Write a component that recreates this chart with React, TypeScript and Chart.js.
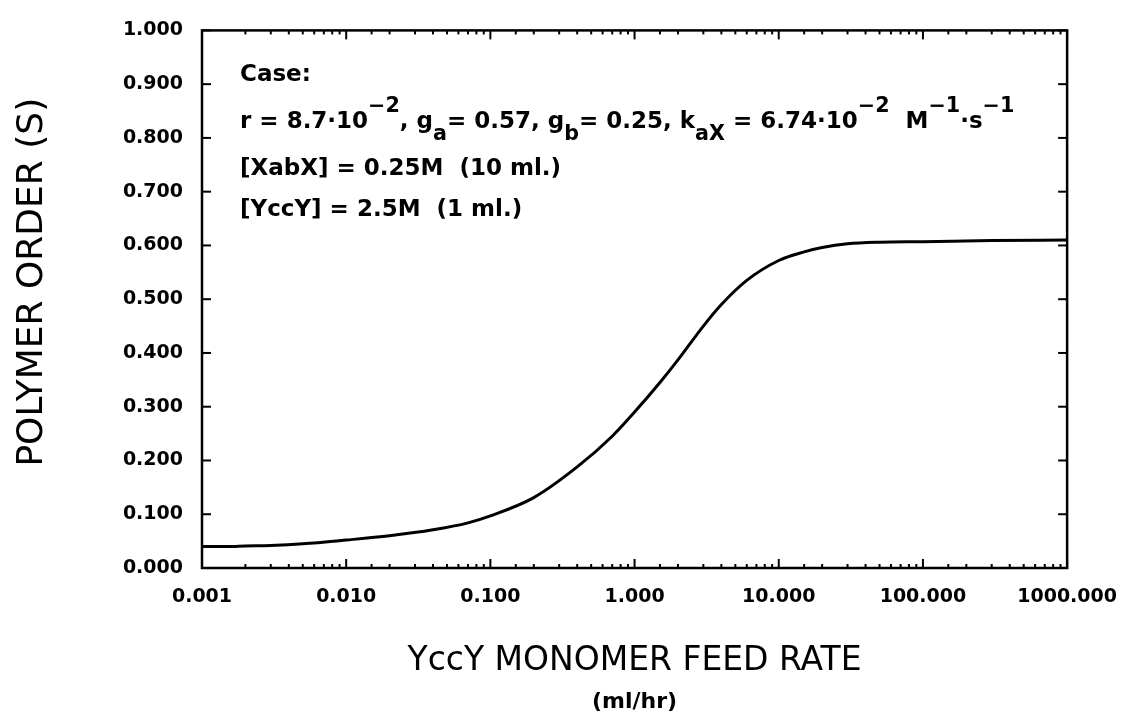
import React, { useEffect, useRef } from "react";
import { Chart, registerables } from "chart.js";

Chart.register(...registerables);

// ---- data ----
const feedRates = [0.001, 0.0015, 0.002, 0.003, 0.005, 0.01, 0.02, 0.04, 0.07, 0.1, 0.2, 0.4, 0.7, 1, 1.5, 2, 3, 4, 6, 10, 15, 20, 30, 50, 100, 300, 1000];
const polymerOrder = [0.040, 0.040, 0.041, 0.042, 0.045, 0.052, 0.060, 0.071, 0.084, 0.097, 0.131, 0.188, 0.245, 0.290, 0.345, 0.387, 0.450, 0.490, 0.535, 0.572, 0.588, 0.596, 0.603, 0.606, 0.607, 0.609, 0.610];

const xMin = 0.001;
const xMax = 1000;
const yMin = 0;
const yMax = 1;
const yStep = 0.1;

const xTitle = "YccY MONOMER FEED RATE";
const xUnit = "(ml/hr)";
const yTitle = "POLYMER ORDER (S)";

type Seg = { t: string; s?: "sup" | "sub" };
const annotationLines: Seg[][] = [
  [{ t: "Case:" }],
  [
    { t: "r = 8.7·10" }, { t: "−2", s: "sup" }, { t: ", g" }, { t: "a", s: "sub" },
    { t: "= 0.57, g" }, { t: "b", s: "sub" }, { t: "= 0.25, k" }, { t: "aX", s: "sub" },
    { t: " = 6.74·10" }, { t: "−2", s: "sup" }, { t: "  M" }, { t: "−1", s: "sup" },
    { t: "·s" }, { t: "−1", s: "sup" },
  ],
  [{ t: "[XabX] = 0.25M  (10 ml.)" }],
  [{ t: "[YccY] = 2.5M  (1 ml.)" }],
];

const FONT = '"DejaVu Sans"';

const isDecade = (v: number) => Math.abs(Math.log10(v) - Math.round(Math.log10(v))) < 1e-6;

const framePlugin = {
  id: "frameTicks",
  afterDatasetsDraw(chart: any) {
    const { ctx, chartArea: a, scales } = chart;
    const x = scales.x;
    const y = scales.y;
    ctx.save();
    ctx.strokeStyle = "#000";
    ctx.lineWidth = 2.5;
    ctx.strokeRect(a.left, a.top, a.right - a.left, a.bottom - a.top);
    ctx.lineWidth = 2;
    const line = (x1: number, y1: number, x2: number, y2: number) => {
      ctx.beginPath();
      ctx.moveTo(x1, y1);
      ctx.lineTo(x2, y2);
      ctx.stroke();
    };
    y.ticks.forEach((t: any) => {
      const py = y.getPixelForValue(t.value);
      line(a.left, py, a.left + 9, py);
      line(a.right, py, a.right - 9, py);
    });
    x.ticks.forEach((t: any) => {
      const px = x.getPixelForValue(t.value);
      const len = isDecade(t.value) ? 9 : 4;
      line(px, a.bottom, px, a.bottom - len);
      line(px, a.top, px, a.top + len);
    });
    ctx.restore();
  },
};

const textPlugin = {
  id: "caseText",
  afterDraw(chart: any) {
    const { ctx, chartArea: a } = chart;
    const size = 23;
    const x0 = a.left + 38;
    const lineYs = [a.top + 45, a.top + 92, a.top + 139, a.top + 180];
    ctx.save();
    ctx.fillStyle = "#000";
    ctx.textBaseline = "middle";
    ctx.textAlign = "left";
    annotationLines.forEach((segs, i) => {
      let cx = x0;
      const y0 = lineYs[i];
      segs.forEach((sg) => {
        let dy = 0;
        let fs = size;
        if (sg.s === "sup") { dy = -16; fs = size * 0.9; }
        if (sg.s === "sub") { dy = 12; fs = size * 0.9; }
        ctx.font = `bold ${fs}px ${FONT}`;
        ctx.fillText(sg.t, cx, y0 + dy);
        cx += ctx.measureText(sg.t).width;
      });
    });
    // y-axis title
    ctx.save();
    ctx.translate(42, (a.top + a.bottom) / 2 - 17);
    ctx.rotate(-Math.PI / 2);
    ctx.font = `36px ${FONT}`;
    ctx.textAlign = "center";
    ctx.textBaseline = "alphabetic";
    ctx.fillText(yTitle, 0, 0);
    ctx.restore();
    ctx.restore();
  },
};

export default function App() {
  const ref = useRef<HTMLCanvasElement | null>(null);

  useEffect(() => {
    if (!ref.current) return;
    const points = feedRates.map((r, i) => ({ x: r, y: polymerOrder[i] }));
    const chart = new Chart(ref.current, {
      type: "line",
      data: {
        datasets: [
          {
            data: points,
            borderColor: "#000",
            borderWidth: 3,
            pointRadius: 0,
            cubicInterpolationMode: "monotone",
            fill: false,
          },
        ],
      },
      options: {
        responsive: false,
        animation: false,
        layout: { padding: { top: 23, right: 59, left: 0, bottom: 0 } },
        plugins: {
          legend: { display: false },
          tooltip: { enabled: false },
          subtitle: {
            display: true,
            text: xUnit,
            position: "bottom",
            fullSize: false,
            color: "#000",
            font: { family: FONT, size: 22, weight: "bold" },
            padding: { top: 0, bottom: 4 },
          },
        },
        scales: {
          x: {
            type: "logarithmic",
            min: xMin,
            max: xMax,
            border: { display: false },
            grid: { display: false, drawTicks: false },
            ticks: {
              autoSkip: false,
              maxRotation: 0,
              padding: 18,
              color: "#000",
              font: { family: FONT, size: 19, weight: "bold" },
              callback: (v: any) => (isDecade(Number(v)) ? Number(v).toFixed(3) : ""),
            },
            title: {
              display: true,
              text: xTitle,
              color: "#000",
              font: { family: FONT, size: 33 },
              padding: { top: 0, bottom: 7 },
            },
            afterFit: (s: any) => {
              s.height = 120.6;
            },
          },
          y: {
            min: yMin,
            max: yMax,
            border: { display: false },
            grid: { display: false, drawTicks: false },
            ticks: {
              stepSize: yStep,
              padding: 19,
              color: "#000",
              font: { family: FONT, size: 19, weight: "bold" },
              callback: (v: any) => Number(v).toFixed(3),
            },
            title: { display: false },
            afterFit: (s: any) => {
              s.width = 202;
            },
          },
        },
      },
      plugins: [framePlugin, textPlugin],
    } as any);
    return () => chart.destroy();
  }, []);

  return (
    <div style={{ position: "absolute", left: 0, top: 0, width: 1135, height: 719, background: "#fff" }}>
      <canvas ref={ref} width={1135} height={719} />
    </div>
  );
}
